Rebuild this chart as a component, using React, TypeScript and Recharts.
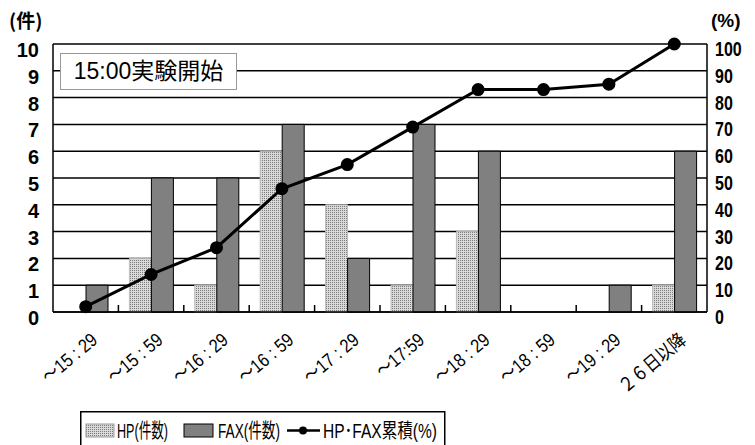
import { Bar, CartesianGrid, ComposedChart, Line, ReferenceLine, XAxis, YAxis } from 'recharts'

const categories = ['～15 : 29', '～15 : 59', '～16 : 29', '～16 : 59', '～17 : 29', '～17:59', '～18 : 29', '～18 : 59', '～19 : 29', '２６日以降']
const hpCounts = [0, 2, 1, 6, 4, 1, 3, 0, 0, 1]
const faxCounts = [1, 5, 5, 7, 2, 7, 6, 0, 1, 6]
const cumulativePct = [2, 14, 24, 46, 55, 69, 83, 83, 85, 100]
const leftTicks = [0, 1, 2, 3, 4, 5, 6, 7, 8, 9, 10]
const rightTicks = [0, 10, 20, 30, 40, 50, 60, 70, 80, 90, 100]

const data = categories.map((name, i) => ({
  name,
  hp: hpCounts[i],
  fax: faxCounts[i],
  cum: cumulativePct[i],
}))

const latin = "'Liberation Sans', Arial, 'Noto Sans CJK JP', sans-serif"

const LeftTick = ({ x, y, payload }: any) => (
  <text x={x} y={y} dy={13} textAnchor="end" fontSize={20} fontWeight="bold" fontFamily={latin} fill="#000">
    {payload.value}
  </text>
)

const RightTick = ({ x, y, payload }: any) => (
  <g transform={`translate(${x},${y}) scale(0.8,1)`}>
    <text x={0} y={0} dy={12} textAnchor="start" fontSize={20} fontWeight="bold" fontFamily={latin} fill="#000">
      {payload.value}
    </text>
  </g>
)

const XTick = ({ x, y, payload }: any) => (
  <g transform={`translate(${x + 13},${y + 30}) rotate(-40) scale(0.85,1)`}>
    <text x={0} y={0} textAnchor="end" fontSize={19} fontFamily={latin} fill="#000">
      {payload.value}
    </text>
  </g>
)

// only the bottom 7px of a band-start reference line: the small inner tick
const ShortTick = (props: any) => {
  const x = Number(props.x1)
  const bottom = Math.max(Number(props.y1), Number(props.y2))
  if (!Number.isFinite(x) || !Number.isFinite(bottom)) return null
  return <path d={`M${x},${bottom}V${bottom - 7}`} stroke="#000" strokeWidth={1.5} fill="none" />
}

export default function App() {
  return (
    <div style={{ position: 'absolute', left: 0, top: 0, width: 755, height: 445, background: '#fff', overflow: 'hidden' }}>
      <svg width={0} height={0} style={{ position: 'absolute' }}>
        <defs>
          <pattern id="dots" width={2} height={2} patternUnits="userSpaceOnUse">
            <rect width={2} height={2} fill="#dadada" />
            <rect width={1} height={1} fill="#7a7a7a" />
          </pattern>
        </defs>
      </svg>
      <div style={{ position: 'absolute', left: 9, top: 10, fontSize: 19, lineHeight: 1, fontWeight: 'bold', fontFamily: "'Noto Sans CJK JP', sans-serif" }}>(件)</div>
      <div style={{ position: 'absolute', left: 711, top: 11, fontSize: 19, lineHeight: 1, fontWeight: 'bold', fontFamily: latin }}>(%)</div>
      <ComposedChart width={755} height={445} data={data} margin={{ top: 44, right: 0, left: 0, bottom: 0 }} barGap={0} barSize={22}>
        <CartesianGrid vertical={false} yAxisId="left" stroke="#000" strokeWidth={1.5} />
        <XAxis
          dataKey="name"
          height={133}
          tick={XTick}
          tickLine={false}
          tickSize={0}
          tickMargin={0}
          axisLine={{ stroke: '#000', strokeWidth: 1.5 }}
          interval={0}
        />
        <YAxis yAxisId="left" width={53} domain={[0, 10]} ticks={leftTicks} tick={<LeftTick />} tickLine={false} axisLine={{ stroke: '#000', strokeWidth: 1.5 }} tickMargin={8} />
        <YAxis yAxisId="right" orientation="right" width={48} domain={[0, 100]} ticks={rightTicks} tick={<RightTick />} tickLine={false} axisLine={{ stroke: '#000', strokeWidth: 1.5 }} tickMargin={2} />
        <Bar yAxisId="left" dataKey="hp" fill="url(#dots)" stroke="#bbb" strokeWidth={1} isAnimationActive={false} />
        <Bar yAxisId="left" dataKey="fax" fill="#808080" stroke="#000" strokeWidth={1} isAnimationActive={false} />
        <Line yAxisId="right" dataKey="cum" stroke="#000" strokeWidth={3} dot={{ r: 5, fill: '#000', stroke: '#000' }} activeDot={false} isAnimationActive={false} />
        {categories.slice(1).map((c) => (
          <ReferenceLine key={c} x={c} yAxisId="left" position="start" shape={ShortTick} />
        ))}
      </ComposedChart>
      <div
        style={{
          position: 'absolute', left: 60, top: 53, width: 177, height: 37, boxSizing: 'border-box',
          border: '1.5px solid #999', background: '#fff', fontSize: 23, lineHeight: 1, fontFamily: latin,
          display: 'flex', alignItems: 'center', justifyContent: 'center', whiteSpace: 'nowrap',
        }}
      >
        15:00実験開始
      </div>
      <svg width={366} height={34} style={{ position: 'absolute', left: 80, top: 411 }}>
        <rect x={0.75} y={0.75} width={364} height={45} fill="#fff" stroke="#000" strokeWidth={1.5} />
        <rect x={6} y={13} width={28} height={13} fill="url(#dots)" stroke="#999" strokeWidth={1} />
        <text x={37} y={26.5} fontSize={20} fontFamily={latin} textLength={51} lengthAdjust="spacingAndGlyphs">HP(件数)</text>
        <rect x={104} y={13} width={29} height={13} fill="#808080" stroke="#000" strokeWidth={1} />
        <text x={138} y={26.5} fontSize={20} fontFamily={latin} textLength={62} lengthAdjust="spacingAndGlyphs">FAX(件数)</text>
        <line x1={207} y1={19.5} x2={240} y2={19.5} stroke="#000" strokeWidth={2.5} />
        <circle cx={223} cy={19.5} r={4} fill="#000" />
        <text x={243} y={26.5} fontSize={20} fontFamily={latin} textLength={114} lengthAdjust="spacingAndGlyphs">HP･FAX累積(%)</text>
      </svg>
    </div>
  )
}
